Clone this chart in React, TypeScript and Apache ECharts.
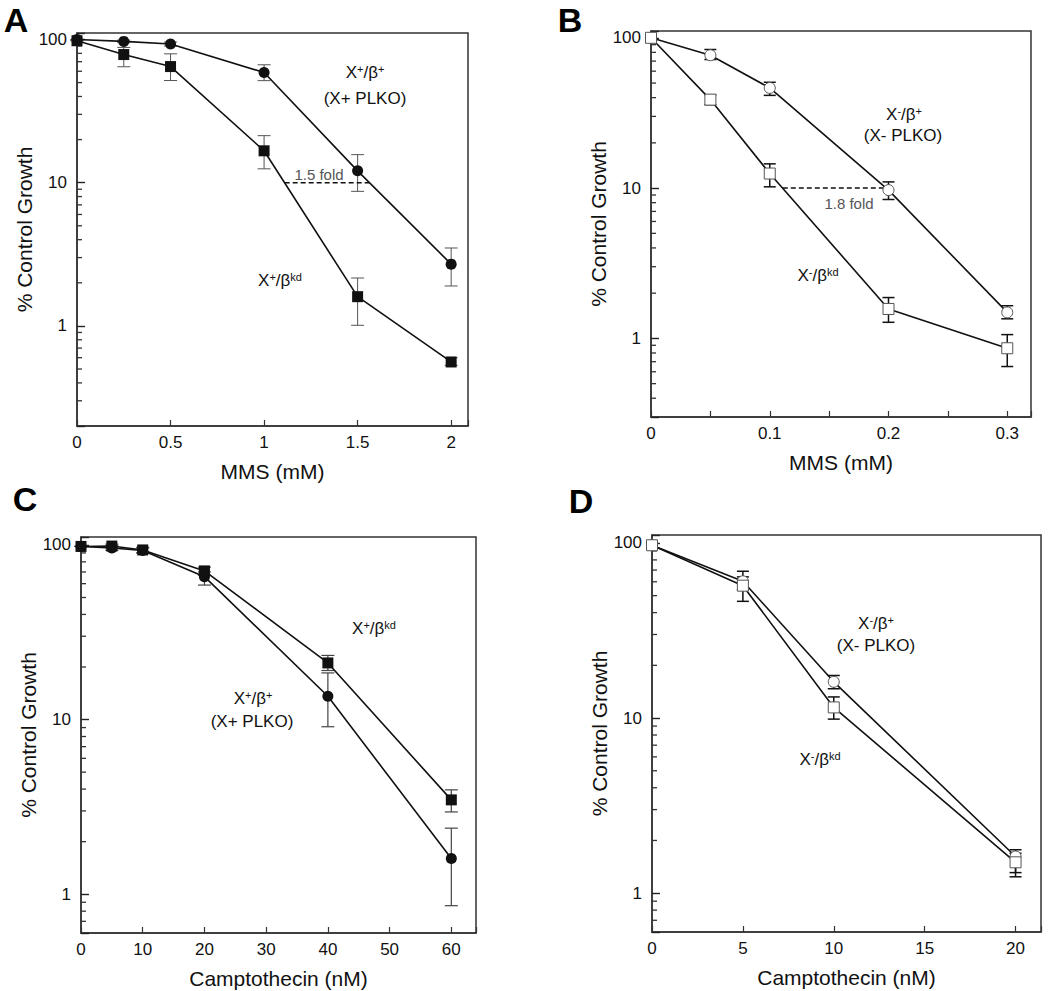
import React, { useEffect, useRef } from "react";
import * as echarts from "echarts";

const FONT = '"Liberation Sans", Arial, Helvetica, sans-serif';

// ---------- Panel A: MMS (mM), X+ cells ----------
const xA = [0, 0.25, 0.5, 1, 1.5, 2];
const aPlus = [100, 97, 93, 58.8, 12.1, 2.7];
const aPlusLo = [100, 95, 90, 51.6, 8.7, 1.9];
const aPlusHi = [100, 99, 96, 66.6, 15.7, 3.5];
const aKd = [98, 78.5, 64.7, 16.7, 1.6, 0.56];
const aKdLo = [98, 64.5, 51.7, 12.5, 1.01, 0.53];
const aKdHi = [98, 88, 79.4, 21.3, 2.16, 0.6];
const aDash = [1.11, 1.565];
const xTicksA = [0, 0.5, 1, 1.5, 2];

// ---------- Panel B: MMS (mM), X- cells ----------
const xB = [0, 0.05, 0.1, 0.2, 0.3];
const bPlus = [100, 76.6, 46.4, 9.7, 1.49];
const bPlusLo = [100, 71.7, 41.4, 8.4, 1.35];
const bPlusHi = [100, 83.6, 50.6, 11, 1.65];
const bKd = [100, 38.8, 12.5, 1.57, 0.86];
const bKdLo = [100, 35.9, 10.2, 1.28, 0.65];
const bKdHi = [100, 41.7, 14.5, 1.87, 1.06];
const bDash = [0.111, 0.198];
const xTicksB = [0, 0.1, 0.2, 0.3];

// ---------- Panel C: Camptothecin (nM), X+ cells ----------
const xC = [0, 5, 10, 20, 40, 60];
const cPlus = [98, 96, 93, 65.8, 13.6, 1.6];
const cPlusLo = [98, 93, 90, 58.9, 9.1, 0.86];
const cPlusHi = [98, 99, 96, 70, 18.5, 2.39];
const cKd = [98, 98.5, 93.6, 71, 21.1, 3.47];
const cKdLo = [98, 96, 90, 67, 19.1, 2.96];
const cKdHi = [98, 101, 97, 74.6, 23.3, 3.96];
const xTicksC = [0, 10, 20, 30, 40, 50, 60];

// ---------- Panel D: Camptothecin (nM), X- cells ----------
const xD = [0, 5, 10, 20];
const dPlus = [97, 60.4, 16.1, 1.62];
const dPlusLo = [97, 54, 14.7, 1.31];
const dPlusHi = [97, 68.9, 17.5, 1.77];
const dKd = [97, 57, 11.5, 1.5];
const dKdLo = [97, 46.4, 9.86, 1.24];
const dKdHi = [97, 64, 13.2, 1.69];
const xTicksD = [0, 5, 10, 15, 20];

// ---------- Y axis ticks ----------
const yLabels = [1, 10, 100];
const yMinor = [0.2, 0.3, 0.4, 0.5, 0.6, 0.7, 0.8, 0.9, 2, 3, 4, 5, 6, 7, 8, 9, 20, 30, 40, 50, 60, 70, 80, 90];

type Group = { x: number[]; y: number[]; lo: number[]; hi: number[]; symbol: string; open: boolean };
type Panel = {
  grid: { left: number; top: number; width: number; height: number };
  xMin: number; xMax: number; xInterval: number; xLabels: number[]; xName: string;
  yMin: number; yMax: number; yNameGap: number;
  groups: Group[]; errColor: string; errWidth: number; capHalf: number;
  dash?: number[];
};

const panels: Panel[] = [
  {
    grid: { left: 77, top: 33, width: 391, height: 393 },
    xMin: 0, xMax: 2.09, xInterval: 0.5, xLabels: xTicksA, xName: "MMS (mM)",
    yMin: 0.2, yMax: 111, yNameGap: 42,
    groups: [
      { x: xA, y: aPlus, lo: aPlusLo, hi: aPlusHi, symbol: "circle", open: false },
      { x: xA, y: aKd, lo: aKdLo, hi: aKdHi, symbol: "rect", open: false },
    ],
    errColor: "#555", errWidth: 1, capHalf: 6.5, dash: aDash,
  },
  {
    grid: { left: 651, top: 31, width: 380, height: 386 },
    xMin: 0, xMax: 0.32, xInterval: 0.05, xLabels: xTicksB, xName: "MMS (mM)",
    yMin: 0.3, yMax: 111, yNameGap: 39,
    groups: [
      { x: xB, y: bPlus, lo: bPlusLo, hi: bPlusHi, symbol: "circle", open: true },
      { x: xB, y: bKd, lo: bKdLo, hi: bKdHi, symbol: "rect", open: true },
    ],
    errColor: "#111", errWidth: 1.5, capHalf: 6, dash: bDash,
  },
  {
    grid: { left: 81, top: 537, width: 395, height: 396 },
    xMin: 0, xMax: 64, xInterval: 10, xLabels: xTicksC, xName: "Camptothecin (nM)",
    yMin: 0.6, yMax: 111, yNameGap: 42,
    groups: [
      { x: xC, y: cPlus, lo: cPlusLo, hi: cPlusHi, symbol: "circle", open: false },
      { x: xC, y: cKd, lo: cKdLo, hi: cKdHi, symbol: "rect", open: false },
    ],
    errColor: "#444", errWidth: 1.2, capHalf: 6.5,
  },
  {
    grid: { left: 652, top: 535, width: 389, height: 397 },
    xMin: 0, xMax: 21.4, xInterval: 5, xLabels: xTicksD, xName: "Camptothecin (nM)",
    yMin: 0.6, yMax: 111, yNameGap: 40,
    groups: [
      { x: xD, y: dPlus, lo: dPlusLo, hi: dPlusHi, symbol: "circle", open: true },
      { x: xD, y: dKd, lo: dKdLo, hi: dKdHi, symbol: "rect", open: true },
    ],
    errColor: "#111", errWidth: 1.5, capHalf: 6,
  },
];

const near = (a: number, b: number) => Math.abs(a - b) < 1e-6 * Math.max(1, Math.abs(b));
const fmt = (v: number) => String(Math.round(v * 1000) / 1000);

function buildOption() {
  const grid: any[] = [];
  const xAxis: any[] = [];
  const yAxis: any[] = [];
  const series: any[] = [];

  panels.forEach((p, i) => {
    grid.push({
      ...p.grid, show: true, borderColor: "#333", borderWidth: 1.5,
      backgroundColor: "transparent",
    });
    xAxis.push({
      gridIndex: i, type: "value", min: p.xMin, max: p.xMax, interval: p.xInterval,
      name: p.xName, nameLocation: "middle", nameGap: 35,
      nameTextStyle: { fontSize: 21, fontFamily: FONT, color: "#111" },
      axisLine: { show: true, onZero: false, lineStyle: { color: "#333", width: 1.5 } },
      axisTick: { show: true, inside: true, length: 6, lineStyle: { color: "#333", width: 1.2 } },
      axisLabel: {
        fontSize: 17, fontFamily: FONT, color: "#111", margin: 8,
        formatter: (v: number) => (p.xLabels.some((l) => near(l, v)) ? fmt(v) : ""),
      },
      splitLine: { show: false },
    });
    yAxis.push({
      gridIndex: i, type: "log", logBase: 10, min: p.yMin, max: p.yMax,
      name: "% Control Growth", nameLocation: "middle", nameGap: p.yNameGap,
      nameTextStyle: { fontSize: 21, fontFamily: FONT, color: "#111" },
      axisLine: { show: true, lineStyle: { color: "#333", width: 1.5 } },
      axisTick: { show: true, inside: true, length: 8, lineStyle: { color: "#222", width: 1.4 } },
      axisLabel: {
        fontSize: 17, fontFamily: FONT, color: "#111", margin: 10,
        formatter: (v: number) => {
          const l = yLabels.find((t) => near(t, v));
          return l !== undefined ? String(l) : "";
        },
      },
      splitLine: { show: false },
    });

    // minor ticks on the log axis (2..9 of every decade)
    series.push({
      type: "custom", xAxisIndex: i, yAxisIndex: i, encode: { x: 0, y: 1 }, silent: true,
      data: yMinor.filter((v) => v > p.yMin && v < p.yMax).map((v) => [p.xMin, v]),
      renderItem: (params: any, api: any) => {
        const c = api.coord([api.value(0), api.value(1)]);
        return {
          type: "line",
          shape: { x1: c[0], y1: c[1], x2: c[0] + 5, y2: c[1] },
          style: { stroke: "#333", lineWidth: 1.3 },
        };
      },
    });

    p.groups.forEach((g) => {
      series.push({
        type: "custom", xAxisIndex: i, yAxisIndex: i, silent: true, z: 2,
        encode: { x: 0, y: [1, 2] },
        data: g.x.map((x, k) => [x, g.lo[k], g.hi[k]]),
        renderItem: (params: any, api: any) => {
          const x = api.value(0);
          const a = api.coord([x, api.value(1)]);
          const b = api.coord([x, api.value(2)]);
          const h = p.capHalf;
          const st = { stroke: p.errColor, lineWidth: p.errWidth };
          return {
            type: "group",
            children: [
              { type: "line", shape: { x1: a[0], y1: a[1], x2: b[0], y2: b[1] }, style: st },
              { type: "line", shape: { x1: a[0] - h, y1: a[1], x2: a[0] + h, y2: a[1] }, style: st },
              { type: "line", shape: { x1: b[0] - h, y1: b[1], x2: b[0] + h, y2: b[1] }, style: st },
            ],
          };
        },
      });
      series.push({
        type: "line", xAxisIndex: i, yAxisIndex: i, z: 3, silent: true,
        data: g.x.map((x, k) => [x, g.y[k]]),
        symbol: g.symbol, symbolSize: 11,
        showSymbol: true,
        lineStyle: { color: "#111", width: 1.6 },
        itemStyle: g.open
          ? { color: "#fff", borderColor: "#555", borderWidth: 1 }
          : { color: "#111", borderWidth: 0 },
      });
    });

    if (p.dash) {
      series.push({
        type: "line", xAxisIndex: i, yAxisIndex: i, z: 2, silent: true,
        data: p.dash.map((x) => [x, 10]),
        symbol: "none",
        lineStyle: { color: "#111", width: 1.5, type: [5, 3] },
      });
    }
  });

  const rich = {
    n: { fontSize: 17, fontFamily: FONT, fill: "#111" },
    s: { fontSize: 11, fontFamily: FONT, fill: "#111", verticalAlign: "top" },
  };
  const txt = (x: number, y: number, text: string) => ({
    type: "text", x, y, silent: true,
    style: { text, rich, align: "center", verticalAlign: "middle", fill: "#111", fontSize: 17, fontFamily: FONT },
  });
  const plain = (x: number, y: number, text: string, size: number, color: string, weight = "normal") => ({
    type: "text", x, y, silent: true,
    style: { text, fontSize: size, fontFamily: FONT, fontWeight: weight, fill: color, align: "center", verticalAlign: "middle" },
  });

  const graphic = [
    plain(16, 20, "A", 34, "#000", "bold"),
    plain(570, 20, "B", 34, "#000", "bold"),
    plain(25, 499, "C", 34, "#000", "bold"),
    plain(581, 501, "D", 34, "#000", "bold"),
    txt(365, 72, "{n|X}{s|+}{n|/β}{s|+}"),
    txt(365, 98, "{n|(X+ PLKO)}"),
    txt(280, 280, "{n|X}{s|+}{n|/β}{s|kd}"),
    plain(319, 174, "1.5 fold", 15, "#555"),
    txt(904, 114, "{n|X}{s|-}{n|/β}{s|+}"),
    txt(903, 135, "{n|(X- PLKO)}"),
    txt(818, 275, "{n|X}{s|-}{n|/β}{s|kd}"),
    plain(849, 203, "1.8 fold", 15, "#555"),
    txt(374, 628, "{n|X}{s|+}{n|/β}{s|kd}"),
    txt(253, 698, "{n|X}{s|+}{n|/β}{s|+}"),
    txt(252, 721, "{n|(X+ PLKO)}"),
    txt(876, 623, "{n|X}{s|-}{n|/β}{s|+}"),
    txt(876, 645, "{n|(X- PLKO)}"),
    txt(820, 759, "{n|X}{s|-}{n|/β}{s|kd}"),
  ];

  return {
    animation: false,
    backgroundColor: "#fff",
    textStyle: { fontFamily: FONT },
    grid, xAxis, yAxis, series, graphic,
  };
}

export default function App() {
  const ref = useRef<HTMLDivElement>(null);
  useEffect(() => {
    if (!ref.current) return;
    const chart = echarts.init(ref.current, undefined, { renderer: "svg" });
    chart.setOption(buildOption() as any);
    return () => chart.dispose();
  }, []);
  return (
    <div
      ref={ref}
      style={{ position: "absolute", left: 0, top: 0, width: 1050, height: 991, background: "#fff" }}
    />
  );
}
